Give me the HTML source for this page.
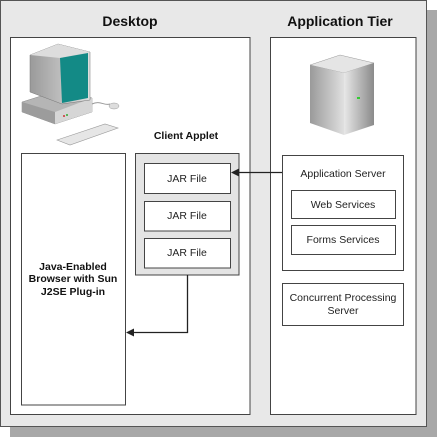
<!DOCTYPE html>
<html><head><style>
html,body{margin:0;padding:0;background:#fff;}
svg text{font-family:"Liberation Sans",Arial,sans-serif;}
</style></head><body>
<svg width="437" height="437" viewBox="0 0 437 437" xmlns="http://www.w3.org/2000/svg">
<defs>
<linearGradient id="g1" x1="0" x2="1"><stop offset="0" stop-color="#9a9a9a"/><stop offset="1" stop-color="#e0e0e0"/></linearGradient>
<linearGradient id="g2" x1="0" x2="1"><stop offset="0" stop-color="#e8e8e8"/><stop offset="1" stop-color="#8a8a8a"/></linearGradient>
</defs>
<rect x="10" y="10" width="427" height="427" fill="#a8a8a8"/>
<rect x="0.5" y="0.5" width="426" height="426" fill="#e8e8e8" stroke="#555" stroke-width="1"/>
<text x="130" y="26" font-size="14" font-weight="bold" text-anchor="middle" fill="#111">Desktop</text>
<text x="340" y="26" font-size="14" font-weight="bold" text-anchor="middle" fill="#111">Application Tier</text>
<rect x="10.5" y="37.5" width="239.5" height="377" fill="#fff" stroke="#444"/>
<rect x="270.5" y="37.5" width="145.5" height="377" fill="#fff" stroke="#444"/>
<!-- computer -->
<g>
<polygon points="22,102 60,90 92,98 92,112 55,124 22,112" fill="#b5b5b5" stroke="#888" stroke-width="0.5"/>
<polygon points="22,102 55,112 55,124 22,112" fill="#9c9c9c"/>
<polygon points="55,112 92,98 92,112 55,124" fill="#d6d6d6"/>
<polygon points="30,55 58,44 90,52 90,100 62,104 30,92" fill="url(#g1)" stroke="#777" stroke-width="0.5"/>
<polygon points="30,55 58,44 90,52 60,58" fill="#ddd"/>
<polygon points="60,58 88,53 88,98 62,103" fill="#138a86"/>
<polygon points="57,140 105,124 118,128 70,145" fill="#e6e6e6" stroke="#999" stroke-width="0.6"/>
<path d="M92,104 C100,100 104,106 110,104" stroke="#999" fill="none"/>
<ellipse cx="114" cy="106" rx="5" ry="3" fill="#ddd" stroke="#999" stroke-width="0.5"/>
<circle cx="64" cy="116" r="1" fill="#c33"/><circle cx="67" cy="115" r="1" fill="#3a3"/>
</g>
<!-- server -->
<g>
<polygon points="310,65 340,55 374,63 344,73" fill="#e5e5e5" stroke="#999" stroke-width="0.5"/>
<polygon points="310,65 344,73 344,135 310,123" fill="url(#g1)"/>
<polygon points="344,73 374,63 374,125 344,135" fill="url(#g2)"/>
<rect x="357" y="97" width="3" height="2" fill="#3c3"/>
</g>
<!-- browser -->
<rect x="21.5" y="153.5" width="104" height="251.5" fill="#fff" stroke="#444"/>
<text font-size="10.5" font-weight="bold" text-anchor="middle" fill="#111"><tspan x="73" y="270">Java-Enabled</tspan><tspan x="73" y="282">Browser with Sun</tspan><tspan x="73" y="295">J2SE Plug-in</tspan></text>
<!-- client applet -->
<text x="186" y="139" font-size="10.5" font-weight="bold" text-anchor="middle" fill="#111">Client Applet</text>
<rect x="135.5" y="153.5" width="103.5" height="121.5" fill="#e4e4e4" stroke="#444"/>
<rect x="144.5" y="163.5" width="86" height="30" fill="#fff" stroke="#444"/>
<rect x="144.5" y="201.5" width="86" height="29.5" fill="#fff" stroke="#444"/>
<rect x="144.5" y="238.5" width="86" height="29.5" fill="#fff" stroke="#444"/>
<text font-size="10.5" text-anchor="middle" fill="#222"><tspan x="187" y="182">JAR File</tspan><tspan x="187" y="219">JAR File</tspan><tspan x="187" y="256">JAR File</tspan></text>
<!-- app server -->
<rect x="282.5" y="155.5" width="121" height="115" fill="#fff" stroke="#444"/>
<text x="343" y="177" font-size="10.5" text-anchor="middle" fill="#222">Application Server</text>
<rect x="291.5" y="190.5" width="104" height="28" fill="#fff" stroke="#444"/>
<text x="343" y="208" font-size="10.5" text-anchor="middle" fill="#222">Web Services</text>
<rect x="291.5" y="225.5" width="104" height="29" fill="#fff" stroke="#444"/>
<text x="343" y="243" font-size="10.5" text-anchor="middle" fill="#222">Forms Services</text>
<rect x="282.5" y="283.5" width="121" height="42" fill="#fff" stroke="#444"/>
<text font-size="10.5" text-anchor="middle" fill="#222"><tspan x="343" y="301">Concurrent Processing</tspan><tspan x="343" y="314">Server</tspan></text>
<!-- connectors -->
<path d="M282,172.5 H238" stroke="#222" stroke-width="1.3" fill="none"/>
<polygon points="231,172.5 239,168.5 239,176.5" fill="#222"/>
<path d="M187.5,275 V332.5 H133" stroke="#222" stroke-width="1.3" fill="none"/>
<polygon points="126,332.5 134,328.5 134,336.5" fill="#222"/>
</svg>
</body></html>
